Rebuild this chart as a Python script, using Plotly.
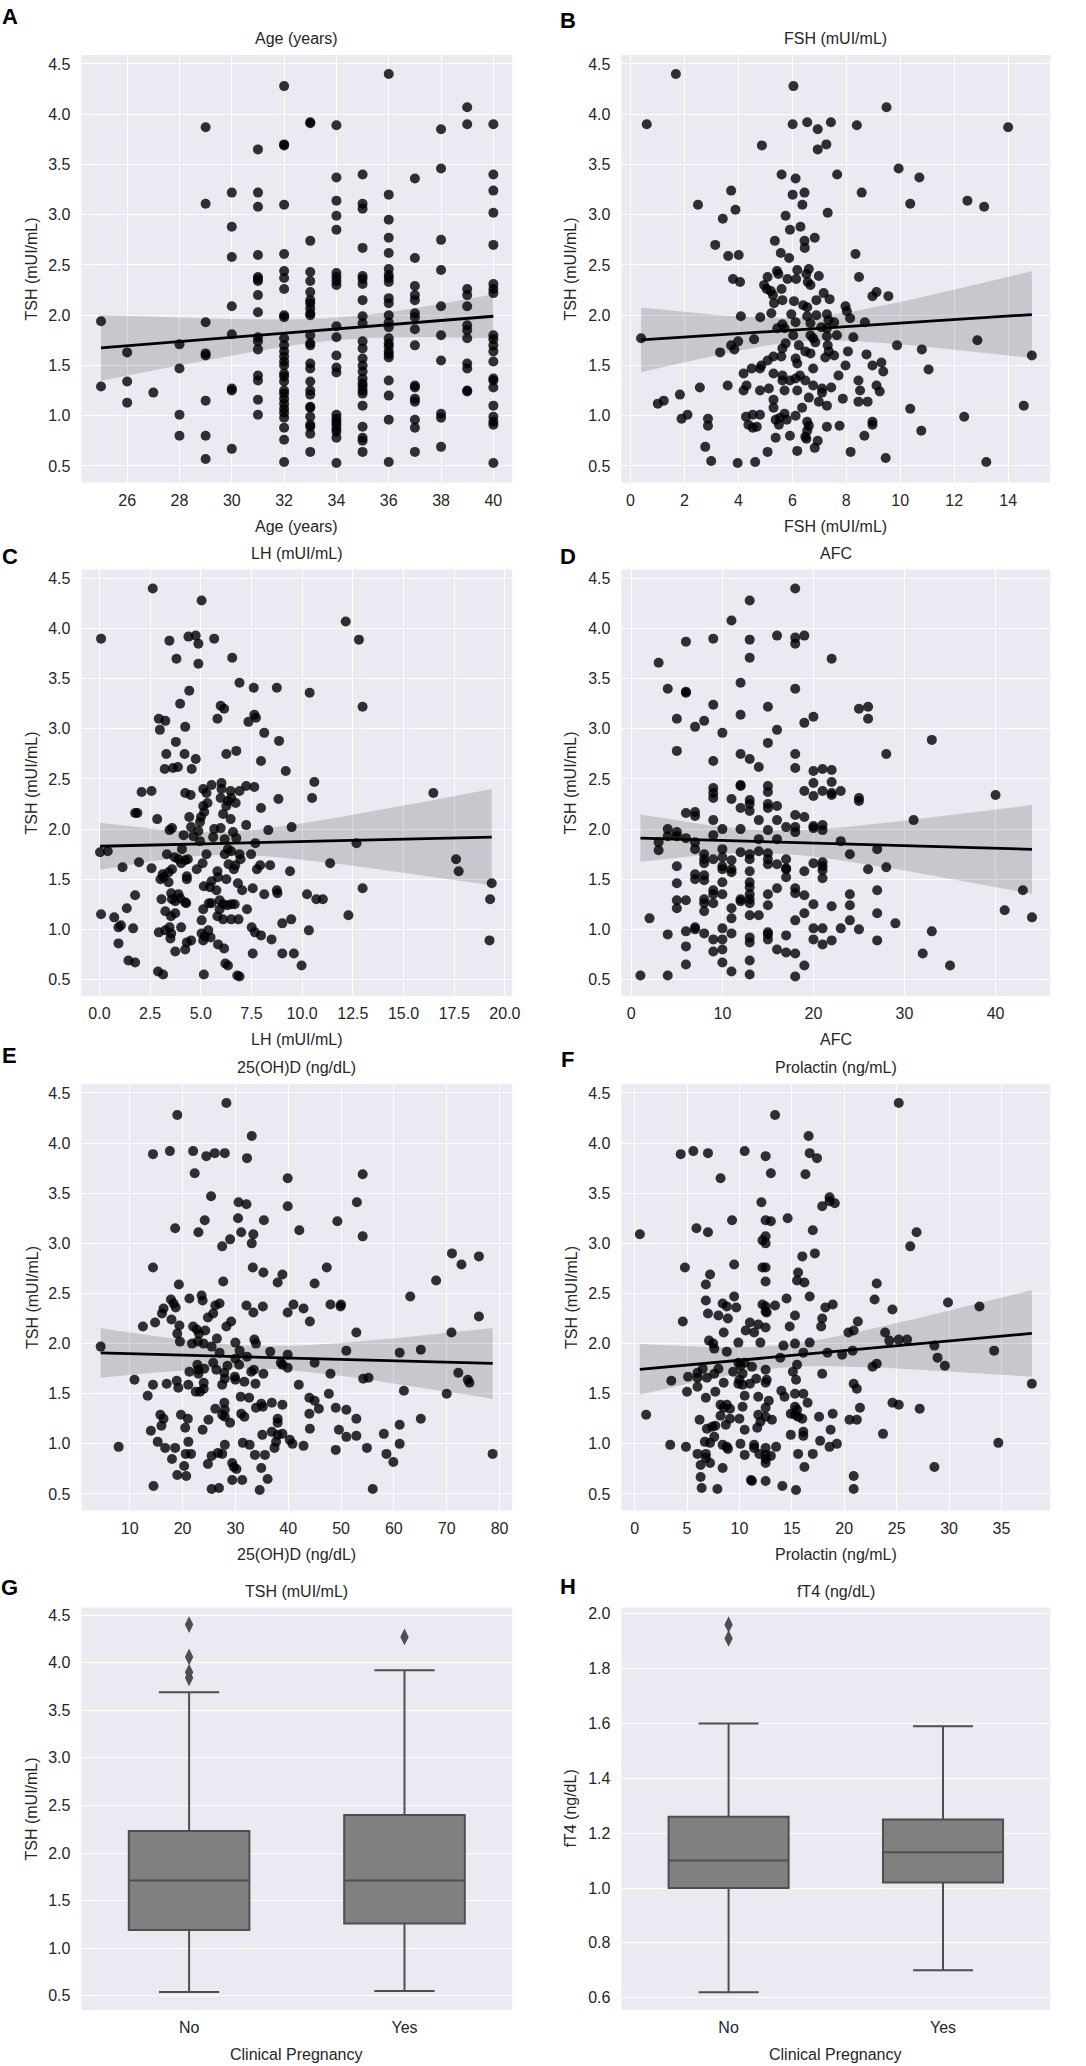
import numpy as np
import plotly.graph_objects as go

# ---- data ----
# A: TSH by age (years), one list per age
age_levels = [25, 26, 27, 28, 29, 30, 31, 32, 33, 34, 35, 36, 37, 38, 39, 40]
tsh_by_age = [
    [1.94, 1.29],
    [1.63, 1.34, 1.13],
    [1.23],
    [1.71, 1.47, 1.01, 0.80],
    [3.87, 3.11, 1.93, 1.62, 1.60, 1.15, 0.80, 0.57],
    [3.22, 2.88, 2.58, 2.09, 1.81, 1.27, 1.25, 0.67],
    [3.65, 3.22, 3.08, 2.60, 2.38, 2.36, 2.34, 2.20, 2.03, 1.78, 1.74, 1.66, 1.40, 1.35, 1.16, 1.01],
    [4.28, 3.70, 3.69, 3.10, 2.61, 2.44, 2.37, 2.26, 2.00, 1.98, 1.77, 1.70, 1.64, 1.59, 1.54,
     1.50, 1.42, 1.39, 1.34, 1.25, 1.22, 1.17, 1.12, 1.07, 1.03, 0.98, 0.88, 0.76, 0.54],
    [3.92, 3.91, 2.74, 2.43, 2.34, 2.23, 2.15, 2.12, 2.07, 2.02, 2.00, 1.80, 1.72, 1.70, 1.52,
     1.47, 1.34, 1.25, 1.21, 1.09, 1.08, 0.99, 0.91, 0.89, 0.82, 0.64],
    [3.89, 3.37, 3.14, 2.99, 2.85, 2.42, 2.38, 2.34, 2.30, 1.89, 1.78, 1.60, 1.48, 1.43, 1.01,
     0.97, 0.94, 0.91, 0.87, 0.84, 0.78, 0.53],
    [3.40, 3.11, 3.06, 2.67, 2.39, 2.36, 2.31, 2.15, 1.99, 1.92, 1.74, 1.67, 1.57, 1.50, 1.44,
     1.37, 1.32, 1.29, 1.25, 1.22, 1.10, 0.89, 0.78, 0.75, 0.64],
    [4.40, 3.20, 2.95, 2.77, 2.62, 2.46, 2.40, 2.37, 2.33, 2.17, 2.12, 2.00, 1.93, 1.88, 1.77,
     1.72, 1.69, 1.64, 1.61, 1.58, 1.35, 1.20, 0.96, 0.54],
    [3.36, 2.57, 2.29, 2.20, 2.15, 2.02, 1.98, 1.86, 1.70, 1.30, 1.28, 1.17, 1.14, 0.96, 0.88, 0.64],
    [3.85, 3.46, 2.75, 2.45, 2.09, 1.80, 1.55, 1.02, 0.98, 0.69],
    [4.07, 3.90, 2.26, 2.20, 2.09, 1.90, 1.85, 1.77, 1.52, 1.47, 1.25, 1.24],
    [3.90, 3.40, 3.24, 3.02, 2.70, 2.31, 2.26, 2.22, 1.80, 1.76, 1.70, 1.64, 1.54, 1.37, 1.35,
     1.28, 1.10, 0.99, 0.94, 0.91, 0.53],
]

# B: (FSH, TSH)
fsh_pts = [
    (1.68, 4.40), (0.60, 3.90), (6.04, 4.28), (9.49, 4.07), (6.01, 3.90), (6.55, 3.92), (6.94, 3.85), (7.43, 3.92),
    (8.39, 3.89), (14.0, 3.87), (4.87, 3.69), (7.26, 3.70), (6.94, 3.65), (9.94, 3.46), (5.60, 3.40), (6.12, 3.36),
    (7.66, 3.40), (10.71, 3.37), (3.73, 3.24), (6.45, 3.22), (8.57, 3.22), (6.01, 3.20), (2.50, 3.10), (6.37, 3.10),
    (10.37, 3.11), (12.49, 3.14), (13.11, 3.08), (3.89, 3.05), (7.31, 3.02), (5.75, 2.99), (3.42, 2.96), (6.30, 2.88),
    (5.91, 2.85), (3.14, 2.70), (5.35, 2.74), (6.45, 2.74), (6.83, 2.77), (6.46, 2.67), (3.62, 2.59), (4.01, 2.60),
    (5.57, 2.62), (5.88, 2.57), (8.34, 2.61), (3.80, 2.36), (4.06, 2.33), (5.08, 2.38), (5.43, 2.44), (5.48, 2.41),
    (5.82, 2.36), (6.18, 2.45), (6.14, 2.36), (6.61, 2.46), (6.52, 2.41), (6.57, 2.33), (6.67, 2.30), (6.98, 2.39),
    (8.47, 2.38), (4.95, 2.30), (5.05, 2.26), (5.20, 2.24), (5.28, 2.20), (5.60, 2.26), (7.16, 2.22), (7.38, 2.16),
    (6.06, 2.14), (5.63, 2.15), (6.89, 2.15), (8.97, 2.19), (9.12, 2.23), (9.56, 2.19), (5.32, 2.12), (6.40, 2.10),
    (6.55, 2.08), (7.97, 2.09), (8.02, 2.04), (8.14, 1.97), (4.09, 1.99), (4.81, 1.98), (5.22, 2.02), (5.96, 2.01),
    (6.55, 1.99), (6.89, 2.00), (7.28, 2.01), (7.34, 1.95), (6.12, 1.93), (5.63, 1.91), (6.67, 1.92), (7.55, 1.93),
    (8.69, 1.93), (5.44, 1.87), (5.71, 1.87), (7.07, 1.88), (7.28, 1.87), (6.67, 1.80), (6.03, 1.80), (7.28, 1.79),
    (7.65, 1.80), (8.26, 1.78), (0.39, 1.77), (4.58, 1.76), (3.99, 1.74), (3.73, 1.70), (3.85, 1.66), (5.75, 1.72),
    (6.85, 1.73), (6.77, 1.77), (6.24, 1.70), (7.31, 1.70), (9.88, 1.70), (12.86, 1.75), (5.63, 1.67), (6.48, 1.64),
    (6.67, 1.62), (7.35, 1.64), (7.55, 1.60), (8.06, 1.64), (8.75, 1.61), (10.80, 1.66), (14.88, 1.60), (3.32, 1.63),
    (5.30, 1.59), (5.59, 1.59), (6.12, 1.57), (6.18, 1.52), (7.22, 1.58), (7.97, 1.50), (8.97, 1.50), (9.30, 1.53),
    (9.37, 1.44), (11.05, 1.46), (4.85, 1.50), (4.80, 1.47), (4.49, 1.47), (5.08, 1.55), (4.19, 1.42), (5.30, 1.42),
    (5.63, 1.40), (6.77, 1.47), (6.28, 1.40), (7.71, 1.40), (3.60, 1.30), (2.57, 1.28), (4.19, 1.25), (4.30, 1.30),
    (4.80, 1.25), (5.13, 1.27), (5.63, 1.35), (5.91, 1.35), (6.12, 1.37), (6.48, 1.35), (5.71, 1.25), (6.18, 1.25),
    (6.77, 1.30), (7.10, 1.27), (7.10, 1.23), (7.44, 1.28), (8.45, 1.35), (8.51, 1.25), (9.12, 1.30), (9.24, 1.24),
    (1.83, 1.21), (1.01, 1.12), (1.23, 1.15), (5.30, 1.16), (6.61, 1.18), (7.87, 1.17), (6.98, 1.14), (7.28, 1.10),
    (8.45, 1.14), (8.79, 1.14), (10.37, 1.07), (14.58, 1.10), (5.30, 1.08), (6.36, 1.08), (2.11, 1.01), (1.89, 0.97),
    (2.87, 0.97), (2.87, 0.90), (4.28, 0.99), (4.53, 1.01), (4.80, 1.01), (4.37, 0.91), (4.53, 0.88), (4.68, 0.89),
    (5.38, 0.96), (5.54, 0.98), (5.71, 1.02), (5.50, 0.91), (5.79, 0.96), (6.12, 1.00), (6.55, 0.94), (6.61, 0.90),
    (7.28, 0.89), (7.75, 0.90), (8.97, 0.94), (8.97, 0.91), (12.37, 0.99), (10.78, 0.85), (6.55, 0.85), (6.48, 0.79),
    (6.52, 0.77), (5.38, 0.78), (5.91, 0.80), (6.94, 0.75), (8.67, 0.80), (2.77, 0.69), (5.08, 0.64), (6.18, 0.65),
    (6.83, 0.68), (8.16, 0.64), (9.46, 0.58), (2.99, 0.55), (3.97, 0.53), (4.62, 0.54), (13.19, 0.54),
]

# C: (LH, TSH)
lh_pts = [
    (2.63, 4.40), (5.04, 4.28), (0.08, 3.90), (12.15, 4.07), (12.80, 3.89), (3.45, 3.88), (4.39, 3.92), (4.75, 3.93),
    (4.88, 3.85), (5.66, 3.90), (3.80, 3.70), (4.88, 3.65), (6.55, 3.71), (6.91, 3.46), (7.61, 3.41), (8.75, 3.41),
    (10.37, 3.36), (4.43, 3.38), (3.98, 3.25), (5.98, 3.23), (6.15, 3.20), (12.98, 3.22), (2.93, 3.10), (3.25, 3.08),
    (5.82, 3.10), (7.64, 3.14), (7.72, 3.11), (7.35, 3.07), (2.98, 2.99), (4.23, 3.02), (8.13, 2.96), (8.86, 2.88),
    (3.77, 2.87), (3.30, 2.75), (4.20, 2.75), (4.75, 2.70), (6.26, 2.75), (6.75, 2.78), (7.97, 2.68), (3.22, 2.60),
    (3.63, 2.61), (3.87, 2.62), (4.55, 2.60), (9.19, 2.58), (2.08, 2.37), (2.57, 2.38), (4.23, 2.36), (4.50, 2.34),
    (5.12, 2.40), (5.28, 2.36), (5.53, 2.44), (6.02, 2.46), (6.02, 2.40), (6.47, 2.38), (6.50, 2.31), (6.91, 2.38),
    (7.24, 2.43), (7.64, 2.42), (10.60, 2.47), (10.49, 2.31), (16.47, 2.36), (5.98, 2.31), (6.34, 2.28), (6.72, 2.26),
    (8.83, 2.30), (5.33, 2.26), (5.12, 2.23), (5.17, 2.17), (1.76, 2.16), (1.87, 2.16), (6.26, 2.23), (6.10, 2.15),
    (7.97, 2.21), (2.85, 2.10), (4.43, 2.12), (5.01, 2.12), (4.96, 2.07), (6.47, 2.10), (7.24, 2.04), (3.58, 2.01),
    (3.46, 1.99), (4.52, 2.02), (4.88, 1.98), (5.66, 2.00), (5.98, 2.01), (6.59, 1.97), (4.15, 1.94), (4.63, 1.93),
    (8.33, 1.99), (9.48, 2.02), (5.61, 1.92), (6.18, 1.90), (6.75, 1.91), (4.96, 1.88), (7.69, 1.86), (12.68, 1.86),
    (0.03, 1.77), (0.41, 1.78), (3.33, 1.75), (4.07, 1.80), (3.71, 1.72), (3.90, 1.70), (4.23, 1.69), (4.36, 1.70),
    (5.28, 1.75), (6.34, 1.80), (6.50, 1.78), (6.18, 1.75), (6.91, 1.75), (7.48, 1.75), (6.96, 1.70), (17.59, 1.70),
    (1.95, 1.67), (4.03, 1.66), (5.09, 1.66), (6.37, 1.65), (6.70, 1.64), (7.93, 1.64), (8.42, 1.64), (11.38, 1.66),
    (1.14, 1.62), (2.57, 1.61), (4.80, 1.60), (6.63, 1.60), (7.77, 1.60), (3.58, 1.60), (3.41, 1.57), (3.12, 1.55),
    (3.17, 1.52), (4.31, 1.53), (4.31, 1.50), (5.82, 1.58), (5.85, 1.52), (6.26, 1.50), (9.40, 1.58), (17.72, 1.58),
    (3.01, 1.50), (3.41, 1.47), (5.53, 1.48), (6.83, 1.46), (19.35, 1.46), (5.15, 1.43), (5.45, 1.42), (5.77, 1.39),
    (7.04, 1.39), (7.56, 1.41), (8.75, 1.39), (8.78, 1.36), (10.24, 1.35), (12.98, 1.41), (3.54, 1.36), (3.90, 1.35),
    (1.76, 1.34), (8.13, 1.35), (3.06, 1.30), (3.58, 1.30), (3.74, 1.28), (3.98, 1.31), (4.23, 1.27), (4.28, 1.26),
    (5.40, 1.26), (5.53, 1.26), (5.93, 1.29), (6.10, 1.25), (6.31, 1.24), (6.50, 1.25), (6.67, 1.25), (10.70, 1.30),
    (11.02, 1.30), (19.27, 1.30), (1.35, 1.21), (3.25, 1.18), (3.74, 1.16), (3.53, 1.13), (5.12, 1.20), (5.93, 1.20),
    (7.28, 1.20), (0.08, 1.15), (0.73, 1.12), (5.82, 1.13), (12.28, 1.14), (5.04, 1.09), (6.10, 1.10), (6.50, 1.10),
    (6.86, 1.10), (9.46, 1.10), (9.02, 1.06), (1.06, 1.04), (0.94, 1.02), (1.66, 1.01), (2.93, 0.97), (3.25, 0.99),
    (3.46, 1.02), (3.54, 0.96), (4.03, 1.02), (5.04, 0.96), (5.37, 0.99), (5.20, 0.93), (5.48, 0.92), (5.12, 0.89),
    (7.51, 1.02), (7.67, 0.97), (7.97, 0.94), (10.33, 0.99), (3.50, 0.91), (4.31, 0.87), (4.52, 0.89), (8.49, 0.90),
    (0.94, 0.86), (5.85, 0.85), (6.15, 0.81), (3.74, 0.78), (4.23, 0.80), (7.56, 0.76), (9.02, 0.76), (9.59, 0.76),
    (1.43, 0.69), (1.76, 0.67), (6.21, 0.66), (6.34, 0.64), (9.97, 0.64), (2.89, 0.58), (3.14, 0.55), (5.15, 0.55),
    (6.80, 0.54), (6.91, 0.53), (19.24, 0.89),
]

# D: (AFC, TSH)
afc_pts = [
    (18, 4.40), (13, 4.28), (11, 4.08), (6, 3.87), (9, 3.90), (13, 3.89), (16, 3.93), (18, 3.91), (18, 3.85),
    (19, 3.93), (3, 3.66), (13, 3.71), (22, 3.70), (4, 3.40), (6, 3.37), (6, 3.36), (12, 3.46), (18, 3.40),
    (9, 3.24), (15, 3.22), (25, 3.20), (26, 3.22), (26, 3.10), (5, 3.10), (8, 3.08), (7, 3.02), (12, 3.14),
    (10, 2.96), (16, 2.99), (19, 3.06), (20, 3.12), (33, 2.89), (5, 2.78), (15, 2.86), (12, 2.75), (13, 2.70),
    (18, 2.75), (28, 2.75), (9, 2.68), (14, 2.62), (18, 2.61), (20, 2.58), (21, 2.60), (22, 2.59), (20, 2.46),
    (22, 2.47), (9, 2.41), (9, 2.36), (9, 2.31), (12, 2.44), (12, 2.43), (15, 2.43), (15, 2.37), (19, 2.38),
    (20, 2.33), (21, 2.38), (22, 2.36), (22, 2.34), (23, 2.38), (25, 2.31), (25, 2.28), (40, 2.34), (11, 2.30),
    (13, 2.29), (13, 2.25), (13, 2.18), (12, 2.21), (15, 2.25), (15, 2.21), (16, 2.23), (6, 2.16), (7, 2.17),
    (7, 2.13), (18, 2.14), (19, 2.12), (9, 2.09), (14, 2.09), (16, 2.09), (31, 2.09), (4, 2.00), (10, 2.00),
    (12, 2.00), (15, 1.99), (17, 2.02), (18, 2.02), (18, 1.97), (20, 2.03), (20, 2.01), (21, 2.04), (21, 1.99),
    (4, 1.93), (5, 1.97), (5, 1.93), (6, 1.91), (9, 1.94), (3, 1.87), (7, 1.87), (14, 1.90), (16, 1.90),
    (23, 1.88), (3, 1.79), (7, 1.80), (8, 1.75), (10, 1.80), (14, 1.78), (12, 1.77), (13, 1.75), (15, 1.76),
    (24, 1.75), (27, 1.80), (8, 1.70), (9, 1.70), (10, 1.72), (11, 1.69), (13, 1.70), (15, 1.70), (17, 1.70),
    (8, 1.66), (10, 1.63), (15, 1.65), (16, 1.65), (20, 1.66), (21, 1.67), (21, 1.63), (5, 1.63), (10, 1.60),
    (11, 1.60), (11, 1.57), (17, 1.61), (17, 1.60), (21, 1.59), (26, 1.60), (28, 1.62), (13, 1.58), (19, 1.58),
    (7, 1.55), (8, 1.54), (7, 1.50), (8, 1.49), (17, 1.52), (21, 1.51), (5, 1.46), (10, 1.47), (13, 1.47),
    (13, 1.42), (9, 1.39), (16, 1.41), (18, 1.41), (27, 1.39), (43, 1.39), (9, 1.35), (10, 1.35), (13, 1.35),
    (15, 1.35), (18, 1.36), (19, 1.34), (24, 1.35), (5, 1.29), (6, 1.29), (8, 1.30), (8, 1.26), (12, 1.30),
    (12, 1.28), (13, 1.30), (13, 1.26), (9, 1.26), (5, 1.21), (8, 1.18), (11, 1.21), (15, 1.24), (20, 1.25),
    (22, 1.23), (24, 1.24), (41, 1.19), (44, 1.12), (2, 1.11), (11, 1.11), (13, 1.14), (14, 1.14), (19, 1.16),
    (27, 1.16), (18, 1.09), (24, 1.09), (29, 1.06), (7, 1.02), (7, 1.00), (10, 1.01), (20, 1.01), (21, 1.01),
    (23, 1.01), (25, 1.00), (33, 0.98), (6, 0.98), (8, 0.96), (4, 0.95), (11, 0.96), (15, 0.97), (15, 0.95),
    (17, 0.94), (9, 0.90), (10, 0.90), (13, 0.92), (13, 0.87), (15, 0.90), (20, 0.90), (22, 0.89), (27, 0.89),
    (6, 0.83), (21, 0.85), (9, 0.78), (10, 0.80), (16, 0.80), (17, 0.77), (18, 0.76), (32, 0.76), (6, 0.65),
    (10, 0.67), (13, 0.69), (19, 0.64), (35, 0.64), (1, 0.54), (4, 0.54), (11, 0.58), (13, 0.55), (18, 0.53),
]

# E: (25(OH)D, TSH)
vitd_pts = [
    (28.3, 4.40), (19.0, 4.28), (33.1, 4.07), (14.4, 3.89), (17.6, 3.92), (22.0, 3.92), (24.5, 3.87), (26.1, 3.90),
    (28.0, 3.90), (32.2, 3.85), (22.3, 3.70), (54.1, 3.69), (39.9, 3.65), (25.4, 3.47), (30.6, 3.41), (32.1, 3.39),
    (39.9, 3.37), (53.0, 3.41), (24.2, 3.23), (30.5, 3.25), (35.4, 3.23), (49.3, 3.22), (18.6, 3.15), (23.0, 3.11),
    (31.1, 3.11), (33.4, 3.09), (42.1, 3.13), (54.1, 3.07), (29.0, 3.04), (27.5, 2.97), (33.1, 3.00), (71.0, 2.90),
    (72.8, 2.79), (76.1, 2.87), (14.4, 2.76), (33.3, 2.76), (35.3, 2.71), (47.3, 2.76), (38.9, 2.69), (27.7, 2.62),
    (38.0, 2.61), (68.0, 2.63), (19.3, 2.59), (45.0, 2.60), (63.1, 2.47), (17.8, 2.44), (21.3, 2.45), (23.6, 2.48),
    (23.8, 2.43), (18.3, 2.40), (18.7, 2.36), (27.0, 2.40), (26.2, 2.38), (32.1, 2.38), (35.2, 2.37), (41.0, 2.39),
    (42.9, 2.35), (48.0, 2.39), (49.9, 2.37), (50.0, 2.39), (16.4, 2.35), (33.4, 2.31), (39.9, 2.31), (76.1, 2.27),
    (16.1, 2.30), (14.8, 2.21), (17.9, 2.24), (25.8, 2.30), (24.8, 2.26), (29.2, 2.22), (12.5, 2.17), (19.4, 2.18),
    (22.0, 2.17), (28.3, 2.17), (44.1, 2.22), (22.7, 2.14), (23.1, 2.10), (24.3, 2.13), (19.0, 2.10), (52.9, 2.11),
    (70.9, 2.11), (19.5, 2.02), (21.8, 2.00), (22.9, 2.02), (24.0, 2.00), (25.5, 1.97), (26.5, 2.05), (30.0, 2.01),
    (33.6, 2.04), (33.9, 2.00), (4.5, 1.97), (27.0, 1.91), (30.8, 1.93), (36.6, 1.92), (39.9, 1.89), (51.0, 1.93),
    (61.1, 1.91), (65.1, 1.94), (30.0, 1.85), (32.2, 1.87), (38.6, 1.81), (38.9, 1.79), (45.0, 1.81), (22.8, 1.79),
    (25.8, 1.81), (28.5, 1.78), (30.7, 1.79), (23.0, 1.74), (24.1, 1.75), (26.4, 1.74), (27.9, 1.71), (33.5, 1.74),
    (39.9, 1.76), (21.3, 1.72), (23.0, 1.70), (28.0, 1.65), (29.9, 1.67), (33.0, 1.72), (35.3, 1.70), (48.0, 1.70),
    (72.2, 1.71), (54.2, 1.65), (55.2, 1.66), (74.0, 1.64), (74.3, 1.61), (10.9, 1.64), (14.4, 1.59), (17.0, 1.60),
    (18.9, 1.63), (19.2, 1.56), (21.1, 1.59), (24.0, 1.61), (24.0, 1.55), (27.5, 1.59), (30.0, 1.64), (31.7, 1.62),
    (33.8, 1.60), (42.0, 1.59), (61.9, 1.53), (13.4, 1.48), (22.5, 1.52), (23.3, 1.52), (31.0, 1.47), (32.6, 1.46),
    (47.7, 1.50), (70.0, 1.50), (44.0, 1.46), (45.0, 1.43), (27.9, 1.41), (34.9, 1.40), (36.9, 1.41), (38.9, 1.39),
    (45.8, 1.35), (49.0, 1.36), (51.0, 1.34), (26.2, 1.35), (28.0, 1.34), (33.9, 1.36), (35.2, 1.37), (15.8, 1.29),
    (19.7, 1.29), (27.5, 1.29), (28.0, 1.27), (31.1, 1.30), (31.7, 1.27), (16.4, 1.25), (21.0, 1.25), (24.9, 1.24),
    (38.0, 1.25), (44.0, 1.30), (52.9, 1.25), (65.1, 1.25), (29.0, 1.21), (38.0, 1.21), (16.0, 1.18), (20.5, 1.16),
    (14.0, 1.13), (23.8, 1.14), (44.1, 1.15), (49.6, 1.14), (61.1, 1.19), (35.1, 1.09), (36.9, 1.12), (38.0, 1.09),
    (38.9, 1.10), (51.0, 1.07), (52.9, 1.08), (58.1, 1.10), (15.3, 1.02), (21.1, 1.02), (31.4, 1.01), (32.7, 0.99),
    (37.7, 1.02), (40.3, 1.04), (40.8, 1.00), (42.9, 0.98), (28.0, 0.99), (61.1, 1.00), (7.9, 0.97), (16.7, 0.96),
    (18.6, 0.96), (37.4, 0.96), (49.0, 0.94), (54.9, 0.96), (20.6, 0.90), (21.6, 0.90), (25.5, 0.88), (26.7, 0.91),
    (27.5, 0.90), (33.7, 0.89), (35.6, 0.89), (58.6, 0.90), (78.7, 0.90), (18.0, 0.85), (24.8, 0.80), (29.4, 0.81),
    (29.7, 0.77), (20.3, 0.78), (30.2, 0.75), (34.9, 0.76), (59.9, 0.82), (19.0, 0.69), (20.7, 0.68), (29.4, 0.64),
    (31.3, 0.64), (36.1, 0.65), (14.5, 0.58), (25.5, 0.55), (26.9, 0.56), (34.6, 0.54), (56.0, 0.55),
]

# F: (Prolactin, TSH)
prl_pts = [
    (25.2, 4.40), (13.4, 4.28), (16.6, 4.07), (4.4, 3.89), (5.6, 3.92), (7.0, 3.90), (10.5, 3.92), (12.5, 3.87),
    (16.7, 3.90), (17.4, 3.85), (8.2, 3.65), (13.0, 3.70), (16.3, 3.69), (18.6, 3.46), (17.9, 3.37), (18.6, 3.42),
    (19.1, 3.40), (12.1, 3.41), (9.3, 3.23), (12.5, 3.23), (13.0, 3.22), (14.6, 3.25), (5.9, 3.15), (7.0, 3.11),
    (17.0, 3.13), (26.9, 3.11), (0.5, 3.09), (12.5, 3.07), (12.2, 3.03), (12.5, 3.00), (26.3, 2.97), (16.0, 2.87),
    (17.2, 2.90), (9.5, 2.79), (4.8, 2.76), (12.2, 2.76), (12.5, 2.76), (15.6, 2.71), (7.2, 2.69), (15.5, 2.63),
    (12.5, 2.62), (16.2, 2.61), (6.8, 2.59), (23.1, 2.60), (9.5, 2.47), (14.5, 2.45), (16.7, 2.47), (6.8, 2.43),
    (22.9, 2.44), (8.4, 2.40), (8.8, 2.37), (9.7, 2.36), (12.2, 2.39), (12.5, 2.37), (12.6, 2.31), (13.4, 2.38),
    (18.2, 2.36), (18.9, 2.39), (29.9, 2.41), (32.9, 2.37), (24.6, 2.34), (12.5, 2.32), (7.0, 2.30), (8.0, 2.28),
    (15.3, 2.28), (8.9, 2.25), (17.9, 2.25), (4.6, 2.22), (21.3, 2.22), (11.0, 2.21), (11.8, 2.19), (14.8, 2.17),
    (12.5, 2.16), (17.8, 2.17), (10.6, 2.13), (11.4, 2.11), (8.5, 2.11), (20.4, 2.11), (20.9, 2.13), (23.9, 2.11),
    (24.3, 2.03), (25.2, 2.04), (26.0, 2.04), (7.1, 2.03), (7.5, 2.00), (9.9, 2.01), (12.0, 2.01), (15.3, 2.00),
    (16.7, 2.01), (7.6, 1.95), (14.2, 1.98), (28.6, 1.98), (8.8, 1.92), (16.1, 1.91), (18.4, 1.91), (20.8, 1.93),
    (34.3, 1.93), (19.8, 1.89), (13.9, 1.86), (28.9, 1.86), (9.9, 1.81), (10.1, 1.78), (10.5, 1.81), (15.5, 1.79),
    (23.1, 1.80), (29.6, 1.78), (8.0, 1.75), (6.5, 1.75), (9.4, 1.72), (11.2, 1.77), (12.5, 1.74), (15.1, 1.72),
    (22.7, 1.77), (6.0, 1.71), (7.6, 1.70), (10.3, 1.70), (17.9, 1.70), (6.9, 1.66), (11.6, 1.65), (6.0, 1.66),
    (3.5, 1.63), (5.1, 1.67), (10.0, 1.64), (12.6, 1.64), (15.4, 1.64), (6.0, 1.57), (8.5, 1.61), (9.9, 1.60),
    (10.3, 1.59), (11.0, 1.60), (12.5, 1.61), (20.9, 1.60), (37.9, 1.60), (21.2, 1.55), (5.0, 1.52), (7.7, 1.52),
    (14.0, 1.53), (15.3, 1.50), (16.1, 1.50), (10.5, 1.48), (11.8, 1.47), (14.3, 1.47), (6.8, 1.46), (12.8, 1.43),
    (16.5, 1.41), (24.6, 1.41), (25.2, 1.39), (8.2, 1.39), (8.8, 1.39), (8.5, 1.36), (9.1, 1.35), (10.3, 1.37),
    (12.5, 1.36), (15.3, 1.37), (15.5, 1.34), (21.5, 1.36), (27.2, 1.35), (1.1, 1.29), (8.2, 1.28), (11.8, 1.29),
    (14.9, 1.30), (15.3, 1.29), (15.6, 1.27), (18.9, 1.30), (17.6, 1.27), (6.2, 1.24), (9.1, 1.25), (10.0, 1.25),
    (12.5, 1.27), (13.1, 1.24), (16.0, 1.25), (20.5, 1.24), (21.2, 1.24), (12.0, 1.22), (8.7, 1.19), (7.7, 1.18),
    (11.7, 1.16), (7.4, 1.17), (6.9, 1.15), (10.5, 1.14), (18.7, 1.14), (14.9, 1.09), (16.1, 1.12), (16.1, 1.08),
    (23.7, 1.10), (7.6, 1.07), (6.7, 1.02), (7.2, 1.01), (3.4, 0.99), (4.9, 0.97), (8.4, 0.99), (8.8, 0.97),
    (10.1, 1.00), (11.4, 0.99), (11.4, 0.96), (17.7, 1.03), (19.3, 1.00), (34.7, 1.01), (8.9, 0.95), (12.5, 0.96),
    (13.5, 0.97), (18.6, 0.97), (6.0, 0.90), (6.8, 0.90), (10.5, 0.89), (11.9, 0.90), (12.5, 0.89), (13.0, 0.88),
    (15.6, 0.90), (17.0, 0.90), (6.8, 0.86), (12.5, 0.85), (6.3, 0.79), (7.2, 0.81), (12.5, 0.81), (8.4, 0.76),
    (16.2, 0.77), (28.6, 0.77), (6.3, 0.67), (11.1, 0.64), (11.2, 0.63), (12.5, 0.63), (20.9, 0.68), (6.4, 0.56),
    (7.9, 0.55), (14.1, 0.58), (15.4, 0.54), (20.9, 0.55),
]

# G/H: box statistics by clinical pregnancy
groups = ["No", "Yes"]
tsh_q1 = [1.19, 1.26]
tsh_median = [1.71, 1.71]
tsh_q3 = [2.23, 2.40]
tsh_low = [0.54, 0.55]
tsh_high = [3.69, 3.92]
tsh_out_group = ["No", "No", "No", "No", "Yes"]
tsh_out_value = [4.40, 4.06, 3.90, 3.84, 4.27]

ft4_q1 = [1.00, 1.02]
ft4_median = [1.10, 1.13]
ft4_q3 = [1.26, 1.25]
ft4_low = [0.62, 0.70]
ft4_high = [1.60, 1.59]
ft4_out_group = ["No", "No"]
ft4_out_value = [1.96, 1.91]

# ---- layout helpers ----
W, H = 1086, 2066
BG = "#EAEAF2"
INK = "#262626"
FONT = "Liberation Sans, Arial, sans-serif"
cols = [(82, 516), (626, 1058)]
rows = [(53, 481), (568, 995), (1083, 1510), (1607, 2010)]


def px_x(v):
    return v / W


def px_y(v):
    return 1 - v / H


def fit_band(x, y, n=100):
    x = np.asarray(x, float)
    y = np.asarray(y, float)
    b1, b0 = np.polyfit(x, y, 1)
    grid = np.linspace(x.min(), x.max(), n)
    yhat = b0 + b1 * grid
    resid = y - (b0 + b1 * x)
    s = np.sqrt(resid @ resid / (len(x) - 2))
    se = s * np.sqrt(1 / len(x) + (grid - x.mean()) ** 2 / ((x - x.mean()) ** 2).sum())
    return grid, yhat, yhat - 1.97 * se, yhat + 1.97 * se


age = [a for a, vals in zip(age_levels, tsh_by_age) for _ in vals]
tsh_age = [v for vals in tsh_by_age for v in vals]


def unzip(pts):
    return [p[0] for p in pts], [p[1] for p in pts]


scatter_panels = [
    # row, col, letter, letter_y, label, x, y, xrange, tickvals, fmt
    (0, 0, "A", 15, "Age (years)", age, tsh_age, [24.25, 40.72], list(range(26, 41, 2)), "d"),
    (0, 1, "B", 19, "FSH (mUI/mL)", *unzip(fsh_pts), [-0.34, 15.56], list(range(0, 15, 2)), "d"),
    (1, 0, "C", 555, "LH (mUI/mL)", *unzip(lh_pts), [-0.89, 20.36], [0, 2.5, 5, 7.5, 10, 12.5, 15, 17.5, 20], ".1f"),
    (1, 1, "D", 555, "AFC", *unzip(afc_pts), [-1.09, 46.0], [0, 10, 20, 30, 40], "d"),
    (2, 0, "E", 1055, "25(OH)D (ng/dL)", *unzip(vitd_pts), [0.85, 82.4], list(range(10, 81, 10)), "d"),
    (2, 1, "F", 1059, "Prolactin (ng/mL)", *unzip(prl_pts), [-1.26, 39.65], list(range(0, 36, 5)), "d"),
]

box_panels = [
    (3, 0, "G", 1587, "TSH (mUI/mL)", "TSH (mUI/mL)", tsh_q1, tsh_median, tsh_q3, tsh_low, tsh_high,
     tsh_out_group, tsh_out_value, [0.35, 4.58], [0.5, 1.0, 1.5, 2.0, 2.5, 3.0, 3.5, 4.0, 4.5]),
    (3, 1, "H", 1586, "fT4 (ng/dL)", "fT4 (ng/dL)", ft4_q1, ft4_median, ft4_q3, ft4_low, ft4_high,
     ft4_out_group, ft4_out_value, [0.555, 2.023], [0.6, 0.8, 1.0, 1.2, 1.4, 1.6, 1.8, 2.0]),
]

fig = go.Figure()
annotations = []


def add_text(text, x, y, size=16, bold=False, angle=0):
    annotations.append(dict(
        text=f"<b>{text}</b>" if bold else text, x=px_x(x), y=px_y(y), xref="paper", yref="paper",
        xanchor="center", yanchor="middle", showarrow=False, textangle=angle,
        font=dict(family=FONT, size=size, color="black" if bold else INK)))


def axis_common(anchor):
    return dict(anchor=anchor, showline=False, zeroline=False, ticks="",
                tickfont=dict(family=FONT, size=16, color=INK), gridcolor="white", gridwidth=1.4)


idx = 0
for r, c, letter, ly, label, xs, ys, xr, tv, fmt in scatter_panels:
    idx += 1
    xa, ya = f"x{idx}", f"y{idx}"
    grid, yhat, lo, hi = fit_band(xs, ys)
    fig.add_trace(go.Scatter(x=xs, y=ys, mode="markers", xaxis=xa, yaxis=ya,
                             marker=dict(size=10, color="rgba(0,0,0,0.8)", line=dict(width=0)),
                             showlegend=False, hoverinfo="skip"))
    fig.add_trace(go.Scatter(x=list(grid) + list(grid[::-1]), y=list(hi) + list(lo[::-1]),
                             fill="toself", fillcolor="rgba(0,0,0,0.15)", line=dict(width=0),
                             mode="lines", xaxis=xa, yaxis=ya, showlegend=False, hoverinfo="skip"))
    fig.add_trace(go.Scatter(x=grid, y=yhat, mode="lines", line=dict(color="black", width=2.8),
                             xaxis=xa, yaxis=ya, showlegend=False, hoverinfo="skip"))
    x0, x1 = cols[c]
    y0, y1 = rows[r]
    fig.layout[f"xaxis{idx}"] = dict(
        axis_common(ya), domain=[px_x(x0), px_x(x1)], range=xr, tickvals=tv,
        tickformat=fmt, ticklabelstandoff=6)
    fig.layout[f"yaxis{idx}"] = dict(
        axis_common(xa), domain=[px_y(y1), px_y(y0)], range=[0.335, 4.59],
        tickvals=[0.5, 1.0, 1.5, 2.0, 2.5, 3.0, 3.5, 4.0, 4.5], tickformat=".1f", ticklabelstandoff=10)
    xc = (x0 + x1) / 2
    add_text(label, xc, y0 - 16)
    add_text(label, xc, y1 + 44)
    add_text("TSH (mUI/mL)", 32 if c == 0 else 575, (y0 + y1) / 2, angle=-90)
    add_text(letter, 10 if c == 0 else 572, ly, size=22, bold=True)

for r, c, letter, ly, title, ylabel, q1, med, q3, lo, hi, og, ov, yr, ytv in box_panels:
    idx += 1
    xa, ya = f"x{idx}", f"y{idx}"
    fig.add_trace(go.Box(x=groups, q1=q1, median=med, q3=q3, lowerfence=lo, upperfence=hi,
                         fillcolor="#808080", line=dict(color="#4f4f4f", width=2),
                         whiskerwidth=0.5, boxpoints=False, xaxis=xa, yaxis=ya,
                         showlegend=False, hoverinfo="skip"))
    fig.add_trace(go.Scatter(x=og, y=ov, mode="markers", xaxis=xa, yaxis=ya,
                             marker=dict(symbol="diamond-tall", size=12, color="#4f4f4f"),
                             showlegend=False, hoverinfo="skip"))
    x0, x1 = cols[c]
    y0, y1 = rows[r]
    fig.layout[f"xaxis{idx}"] = dict(
        axis_common(ya), domain=[px_x(x0), px_x(x1)], type="category",
        categoryorder="array", categoryarray=groups, range=[-0.5, 1.5], showgrid=False,
        ticklabelstandoff=6)
    fig.layout[f"yaxis{idx}"] = dict(
        axis_common(xa), domain=[px_y(y1), px_y(y0)], range=yr, tickvals=ytv,
        tickformat=".1f", ticklabelstandoff=10)
    xc = (x0 + x1) / 2
    add_text(title, xc, y0 - 16)
    add_text("Clinical Pregnancy", xc, y1 + 44)
    add_text(ylabel, 32 if c == 0 else 575, (y0 + y1) / 2, angle=-90)
    add_text(letter, 10 if c == 0 else 572, ly, size=22, bold=True)

fig.update_layout(
    width=W, height=H, margin=dict(l=0, r=0, t=0, b=0),
    paper_bgcolor="white", plot_bgcolor=BG, boxgap=0.2,
    annotations=annotations, font=dict(family=FONT, color=INK),
)

# drop the default page margin so the figure sits flush with the window
fig.write_html("out.html", config={"displayModeBar": False},
               post_script="document.body.style.margin='0';")
